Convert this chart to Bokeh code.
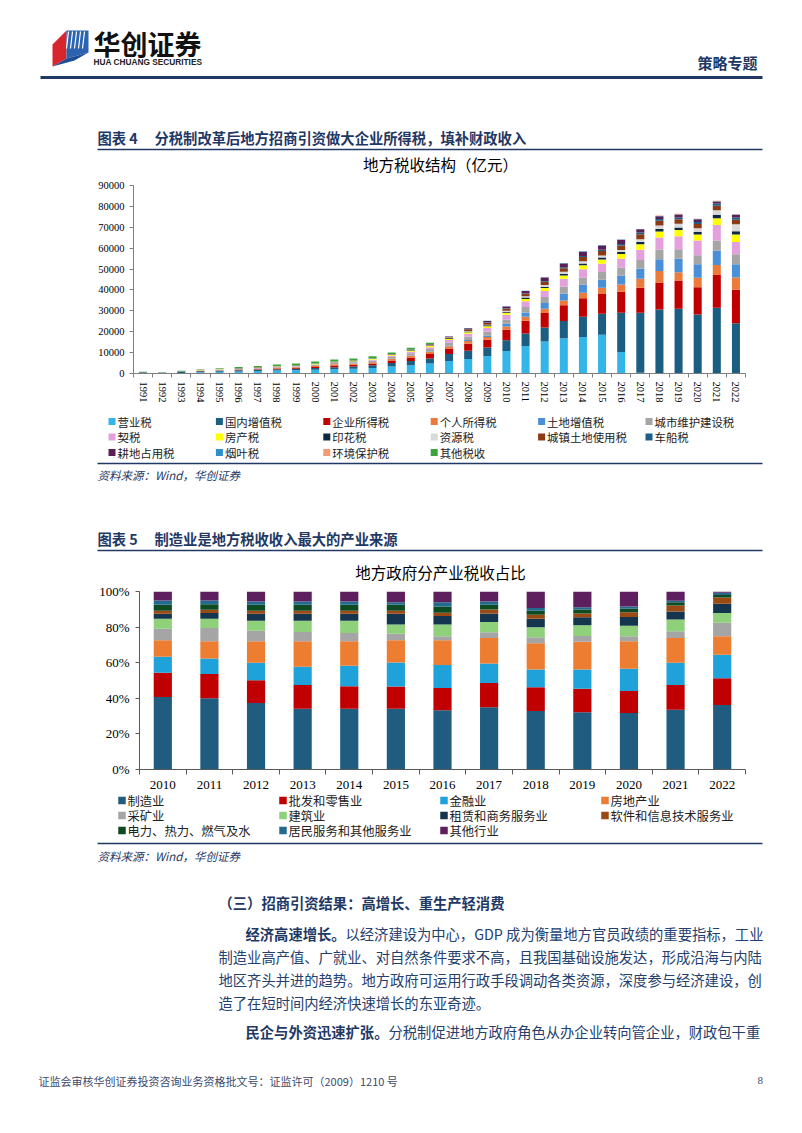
from bokeh.plotting import figure
from bokeh.models import Range1d, FixedTicker, ColumnDataSource, NumeralTickFormatter, PrintfTickFormatter
from bokeh.core.properties import value
from bokeh.embed import file_html
from bokeh.resources import INLINE

# ---------------- data: chart 1 (地方税收结构, 亿元) ----------------
years1 = ["1991", "1992", "1993", "1994", "1995", "1996", "1997", "1998", "1999", "2000",
          "2001", "2002", "2003", "2004", "2005", "2006", "2007", "2008", "2009", "2010",
          "2011", "2012", "2013", "2014", "2015", "2016", "2017", "2018", "2019", "2020",
          "2021", "2022"]
names1 = ["营业税", "国内增值税", "企业所得税", "个人所得税", "土地增值税", "城市维护建设税",
          "契税", "房产税", "印花税", "资源税", "城镇土地使用税", "车船税",
          "耕地占用税", "烟叶税", "环境保护税", "其他税收"]
colors1 = ["#33B5E8", "#1B5E82", "#C00000", "#EC7A3A", "#4A90D9", "#A5A5A5",
           "#E3A0DD", "#FFFF00", "#0E2A40", "#D9D9D9", "#8B3A14", "#1F5F87",
           "#5A1F55", "#2F8FCB", "#F49A74", "#3BA53B"]
yingye = [0, 0, 0, 600, 800, 1000, 1150, 1400, 1550, 1800, 2000, 2250, 2650, 3300, 4000, 4800,
          6000, 7000, 8400, 10800, 13200, 15300, 16900, 17500, 18500, 10350, 300, 0, 0, 0, 0, 0]
zengzhi = [450, 400, 700, 450, 500, 550, 600, 650, 720, 850, 950, 1050, 1250, 1700, 2000, 2400,
           3300, 3900, 4000, 5100, 6000, 6700, 8200, 9700, 10100, 18750, 28800, 30600, 31000, 28300, 31500, 24000]
qiye = [0, 0, 0, 150, 180, 200, 230, 300, 350, 500, 900, 850, 900, 1200, 1600, 2100,
        2700, 3400, 3800, 5000, 6000, 7000, 7600, 8800, 9500, 10000, 12000, 13000, 13500, 13000, 15600, 16100]
geren = [0, 0, 0, 60, 100, 150, 200, 260, 320, 480, 600, 550, 620, 750, 850, 950,
         1000, 1200, 1300, 1600, 2000, 2000, 2300, 2600, 3000, 3500, 4200, 5500, 4000, 4500, 4800, 5800]
tudi = [0, 0, 0, 0, 0, 0, 0, 0, 0, 10, 20, 20, 40, 75, 140, 230,
        400, 540, 720, 1280, 2060, 2720, 3290, 3900, 3830, 4200, 4900, 5600, 6450, 6450, 6900, 6350]
chengjian = [200, 200, 300, 280, 310, 340, 370, 420, 450, 510, 580, 660, 750, 900, 1050, 1250,
             1470, 1700, 1850, 1900, 2600, 2930, 3240, 3450, 3700, 3880, 4170, 4680, 4500, 4400, 4850, 4870]
qishui = [0, 0, 0, 20, 35, 50, 75, 95, 145, 130, 160, 240, 360, 540, 735, 870,
          1200, 1300, 1730, 2460, 2760, 2870, 3840, 4000, 3900, 4300, 4900, 5730, 6210, 7060, 7430, 5790]
fangchan = [0, 0, 0, 80, 95, 115, 140, 170, 180, 210, 230, 280, 320, 370, 435, 515,
            575, 680, 800, 890, 1100, 1370, 1580, 1850, 2050, 2220, 2600, 2890, 2990, 2840, 3280, 3590]
yinhua = [50, 50, 80, 50, 60, 70, 80, 90, 100, 110, 120, 130, 150, 180, 200, 250,
          300, 380, 450, 550, 620, 650, 790, 890, 900, 960, 1140, 1220, 1230, 1310, 1600, 1650]
ziyuan = [0, 0, 0, 45, 55, 60, 60, 60, 60, 60, 65, 75, 83, 99, 142, 207,
          261, 302, 338, 418, 596, 856, 960, 1039, 1000, 919, 1310, 1574, 1757, 1700, 2240, 3250]
chengzhen = [0, 0, 0, 33, 35, 38, 44, 54, 59, 64, 66, 77, 92, 106, 137, 177,
             385, 817, 921, 1004, 1223, 1542, 1719, 1993, 2142, 2256, 2361, 2388, 2195, 2058, 2126, 2226]
chechuan = [0, 0, 0, 20, 22, 24, 25, 26, 27, 30, 32, 34, 36, 38, 39, 50,
            68, 144, 187, 242, 302, 393, 473, 542, 614, 682, 774, 831, 881, 945, 1001, 1068]
gengdi = [0, 0, 0, 32, 35, 33, 33, 33, 33, 35, 38, 57, 90, 120, 142, 171,
          185, 314, 633, 889, 1075, 1621, 1808, 2059, 2097, 2029, 1652, 1319, 1390, 1258, 1065, 1257]
yanye = [0, 0, 0, 0, 0, 0, 0, 0, 0, 0, 0, 0, 0, 0, 0, 42,
         48, 68, 80, 78, 92, 131, 150, 142, 143, 131, 115, 111, 111, 108, 119, 120]
huanbao = [0, 0, 0, 0, 0, 0, 0, 0, 0, 0, 0, 0, 0, 0, 0, 0,
           0, 0, 0, 0, 0, 0, 0, 0, 0, 0, 0, 151, 221, 207, 203, 211]
qita = [100, 100, 200, 150, 300, 500, 600, 700, 800, 900, 1000, 900, 900, 700, 800, 700,
        0, 0, 0, 0, 0, 0, 0, 0, 0, 0, 0, 0, 0, 0, 0, 0]
series1 = [yingye, zengzhi, qiye, geren, tudi, chengjian, qishui, fangchan, yinhua, ziyuan,
           chengzhen, chechuan, gengdi, yanye, huanbao, qita]
yticks1 = [0, 10000, 20000, 30000, 40000, 50000, 60000, 70000, 80000, 90000]

# ---------------- data: chart 2 (地方政府分产业税收占比, %) ----------------
years2 = ["2010", "2011", "2012", "2013", "2014", "2015", "2016", "2017", "2018", "2019", "2020", "2021", "2022"]
names2 = ["制造业", "批发和零售业", "金融业", "房地产业", "采矿业", "建筑业", "租赁和商务服务业",
          "软件和信息技术服务业", "电力、热力、燃气及水", "居民服务和其他服务业", "其他行业"]
colors2 = ["#1F5C80", "#C00000", "#1FA2DA", "#ED7D31", "#A5A5A5", "#8FD17A", "#15354F",
           "#9C4A14", "#0E4A22", "#236B8E", "#5E1F5E"]
zhizao = [40.8, 40.0, 37.4, 34.1, 34.1, 34.1, 33.3, 35.0, 32.8, 32.2, 31.7, 33.5, 36.3]
pifa = [13.6, 13.6, 12.7, 13.4, 12.6, 12.5, 12.5, 13.6, 13.4, 13.1, 12.4, 14.0, 14.9]
jinrong = [8.9, 8.8, 9.9, 10.2, 11.6, 13.5, 12.9, 11.0, 10.0, 10.9, 12.5, 12.5, 13.2]
fangdichan = [9.3, 9.7, 12.1, 14.4, 13.8, 12.5, 13.9, 14.3, 14.7, 15.5, 15.5, 13.9, 10.5]
caikuang = [6.5, 7.4, 5.9, 5.2, 4.6, 3.6, 2.3, 3.2, 3.4, 3.3, 2.8, 3.8, 7.6]
jianzhu = [5.6, 5.2, 5.6, 6.3, 6.9, 5.2, 6.5, 5.8, 5.6, 6.0, 5.9, 6.5, 5.4]
zulin = [2.8, 3.2, 3.9, 3.9, 3.9, 6.1, 4.8, 4.8, 4.8, 4.5, 4.9, 4.6, 5.2]
ruanjian = [1.7, 1.9, 1.7, 1.7, 1.7, 1.7, 1.9, 2.2, 2.3, 2.2, 2.6, 3.4, 3.5]
dianli = [3.4, 3.1, 3.4, 3.4, 3.4, 3.4, 3.5, 2.7, 2.2, 2.2, 2.0, 1.8, 1.5]
jumin = [2.4, 2.1, 1.8, 1.8, 1.8, 1.4, 2.4, 1.8, 1.5, 1.2, 1.3, 0.8, 1.2]
qitahy = [5.0, 5.0, 5.6, 5.6, 5.6, 6.0, 6.0, 5.6, 9.3, 8.9, 8.4, 5.2, 0.7]
series2 = [zhizao, pifa, jinrong, fangdichan, caikuang, jianzhu, zulin, ruanjian, dianli, jumin, qitahy]
yticks2 = [0, 20, 40, 60, 80, 100]

# ---------------- styles ----------------
W = 802
CJK = "Noto Sans CJK SC"
SERIF = "Liberation Serif"
NAVY = "#1F3864"
BODY = "#24406E"


def deco(top, bottom):
    f = figure(width=W, height=bottom - top, x_range=Range1d(0, W), y_range=Range1d(bottom, top),
               output_backend="svg", toolbar_location=None, min_border=0,
               min_border_left=0, min_border_right=0, min_border_top=0, min_border_bottom=0,
               x_axis_type=None, y_axis_type=None, outline_line_color=None)
    f.grid.visible = False
    return f


def txt(f, x, y, s, size, color="#000000", style="normal", align="left", font=CJK):
    f.text(x=[x], y=[y], text=[s], text_font=value(font), text_font_size=value(size),
           text_color=color, text_font_style=value(style), text_align=value(align),
           text_baseline=value("middle"))


def hline(f, y, x0=97, x1=762, color=NAVY, w=1.5):
    f.line(x=[x0, x1], y=[y, y], line_color=color, line_width=w)


def style_axes(p, size, color):
    for ax in (p.xaxis[0], p.yaxis[0]):
        ax.axis_line_color = color
        ax.major_tick_line_color = color
        ax.minor_tick_line_color = color
        ax.major_label_text_font = SERIF
        ax.major_label_text_font_size = size
        ax.major_label_text_color = "#000000"
    p.xgrid.visible = False
    p.ygrid.visible = False


# ---------------- A: header (page y 0 -> 175) ----------------
A = deco(0, 175)
A.patch(x=[52, 66, 66, 52], y=[44, 30, 58, 66], fill_color="#D7262E", line_color=None)
A.patch(x=[66, 88, 88, 66], y=[30, 30, 52, 58], fill_color="#2B63B0", line_color=None)
A.patch(x=[52, 66, 88, 74], y=[66, 58, 52, 60], fill_color="#1E4C96", line_color=None)
for k in range(5):
    A.line(x=[68 + 4 * k, 66 + 4 * k], y=[31, 48], line_color="white", line_width=1.2)
txt(A, 93, 43, "华创证券", "27px", "#111111", "bold")
txt(A, 93, 61.5, "HUA CHUANG SECURITIES", "8.3px", "#222222", "bold", font="Liberation Sans")
txt(A, 697, 62, "策略专题", "15px", NAVY, "bold")
hline(A, 77, 40, 762, NAVY, 3)
txt(A, 97, 137, "图表 4", "14.3px", NAVY, "bold")
txt(A, 154, 137, "分税制改革后地方招商引资做大企业所得税，填补财政收入", "14.3px", NAVY, "bold")
hline(A, 149)
txt(A, 440, 163.5, "地方税收结构（亿元）", "15.5px", "#000000", "normal", "center")

# ---------------- B: chart 1 (page y 175 -> 410) ----------------
src1 = ColumnDataSource(dict(x=list(range(len(years1))), **{n: v for n, v in zip(names1, series1)}))
p1 = figure(width=W, height=235, x_range=Range1d(-0.5, len(years1) - 0.5), y_range=Range1d(0, 90000),
            output_backend="svg", toolbar_location=None, min_border_left=133, min_border_right=57,
            min_border_top=10, min_border_bottom=37, outline_line_color=None)
p1.vbar_stack(names1, x="x", width=0.42, fill_color=colors1, line_color=None, source=src1)
style_axes(p1, "10.5px", "#7F7F7F")
xa = p1.xaxis[0]
xa.ticker = FixedTicker(ticks=list(range(len(years1))), minor_ticks=[i - 0.5 for i in range(len(years1) + 1)])
xa.major_label_overrides = {i: y for i, y in enumerate(years1)}
xa.major_tick_out = 0
xa.major_tick_in = 0
xa.minor_tick_out = 4
xa.minor_tick_in = 0
xa.major_label_orientation = "vertical"
xa.major_label_standoff = 4
ya = p1.yaxis[0]
ya.ticker = FixedTicker(ticks=yticks1)
ya.formatter = NumeralTickFormatter(format="0")
ya.major_tick_out = 4
ya.major_tick_in = 0
ya.minor_tick_out = 0
ya.minor_tick_in = 0
ya.major_label_standoff = 5

# ---------------- C: legend 1, source, fig 5 title (page y 410 -> 583) ----------------
C = deco(410, 583)
lx = [108 + 107.4 * (i % 6) for i in range(len(names1))]
ly = [421 + 15.5 * (i // 6) for i in range(len(names1))]
C.scatter(x=[v + 3.5 for v in lx], y=ly, marker="square", size=7, fill_color=colors1, line_color=None)
C.text(x=[v + 9 for v in lx], y=ly, text=names1, text_font=value(CJK), text_font_size=value("11.4px"),
       text_color="#222222", text_baseline=value("middle"), text_align=value("left"))
hline(C, 463)
txt(C, 97, 474.5, "资料来源：Wind，华创证券", "11.5px", NAVY, "italic")
txt(C, 97, 538, "图表 5", "14.3px", NAVY, "bold")
txt(C, 154, 538, "制造业是地方税收收入最大的产业来源", "14.3px", NAVY, "bold")
hline(C, 550)
txt(C, 440, 571, "地方政府分产业税收占比", "15.5px", "#000000", "normal", "center")

# ---------------- D: chart 2 (page y 583 -> 792) ----------------
src2 = ColumnDataSource(dict(x=list(range(len(years2))), **{n: v for n, v in zip(names2, series2)}))
p2 = figure(width=W, height=209, x_range=Range1d(-0.5, len(years2) - 0.5), y_range=Range1d(0, 100),
            output_backend="svg", toolbar_location=None, min_border_left=139, min_border_right=57,
            min_border_top=8, min_border_bottom=23, outline_line_color=None)
p2.vbar_stack(names2, x="x", width=0.39, fill_color=colors2, line_color=None, source=src2)
style_axes(p2, "13px", "#595959")
xb = p2.xaxis[0]
xb.ticker = FixedTicker(ticks=list(range(len(years2))), minor_ticks=[i - 0.5 for i in range(len(years2) + 1)])
xb.major_label_overrides = {i: y for i, y in enumerate(years2)}
xb.major_tick_out = 0
xb.major_tick_in = 0
xb.minor_tick_out = 5
xb.minor_tick_in = 0
xb.major_label_standoff = 6
yb = p2.yaxis[0]
yb.ticker = FixedTicker(ticks=yticks2)
yb.formatter = PrintfTickFormatter(format="%d%%")
yb.major_tick_out = 4
yb.major_tick_in = 0
yb.minor_tick_out = 0
yb.minor_tick_in = 0
yb.major_label_standoff = 6

# ---------------- E: legend 2, source, text, footer (page y 792 -> 1133) ----------------
E = deco(792, 1133)
mx = [118 + 161 * (i % 4) for i in range(len(names2))]
my = [800 + 15 * (i // 4) for i in range(len(names2))]
E.scatter(x=[v + 3.5 for v in mx], y=my, marker="square", size=7.5, fill_color=colors2, line_color=None)
E.text(x=[v + 9 for v in mx], y=my, text=names2, text_font=value(CJK), text_font_size=value("12.3px"),
       text_color="#222222", text_baseline=value("middle"), text_align=value("left"))
hline(E, 843)
txt(E, 97, 855.5, "资料来源：Wind，华创证券", "11.5px", NAVY, "italic")
txt(E, 218, 902, "（三）招商引资结果：高增长、重生产轻消费", "14.3px", NAVY, "bold")
FS = "14.3px"
txt(E, 245, 933, "经济高速增长。", FS, NAVY, "bold")
txt(E, 345, 933, "以经济建设为中心，GDP 成为衡量地方官员政绩的重要指标，工业", FS, BODY)
txt(E, 218, 956, "制造业高产值、广就业、对自然条件要求不高，且我国基础设施发达，形成沿海与内陆", FS, BODY)
txt(E, 218, 979, "地区齐头并进的趋势。地方政府可运用行政手段调动各类资源，深度参与经济建设，创", FS, BODY)
txt(E, 218, 1002, "造了在短时间内经济快速增长的东亚奇迹。", FS, BODY)
txt(E, 245, 1031, "民企与外资迅速扩张。", FS, NAVY, "bold")
txt(E, 388, 1031, "分税制促进地方政府角色从办企业转向管企业，财政包干重", FS, BODY)
txt(E, 38, 1080, "证监会审核华创证券投资咨询业务资格批文号：证监许可（2009）1210 号", "11px", "#3C4A6B")
txt(E, 757, 1080, "8", "11px", "#3C4A6B", font=SERIF)

open("out.html", "w").write(file_html([A, p1, C, p2, E], INLINE))
